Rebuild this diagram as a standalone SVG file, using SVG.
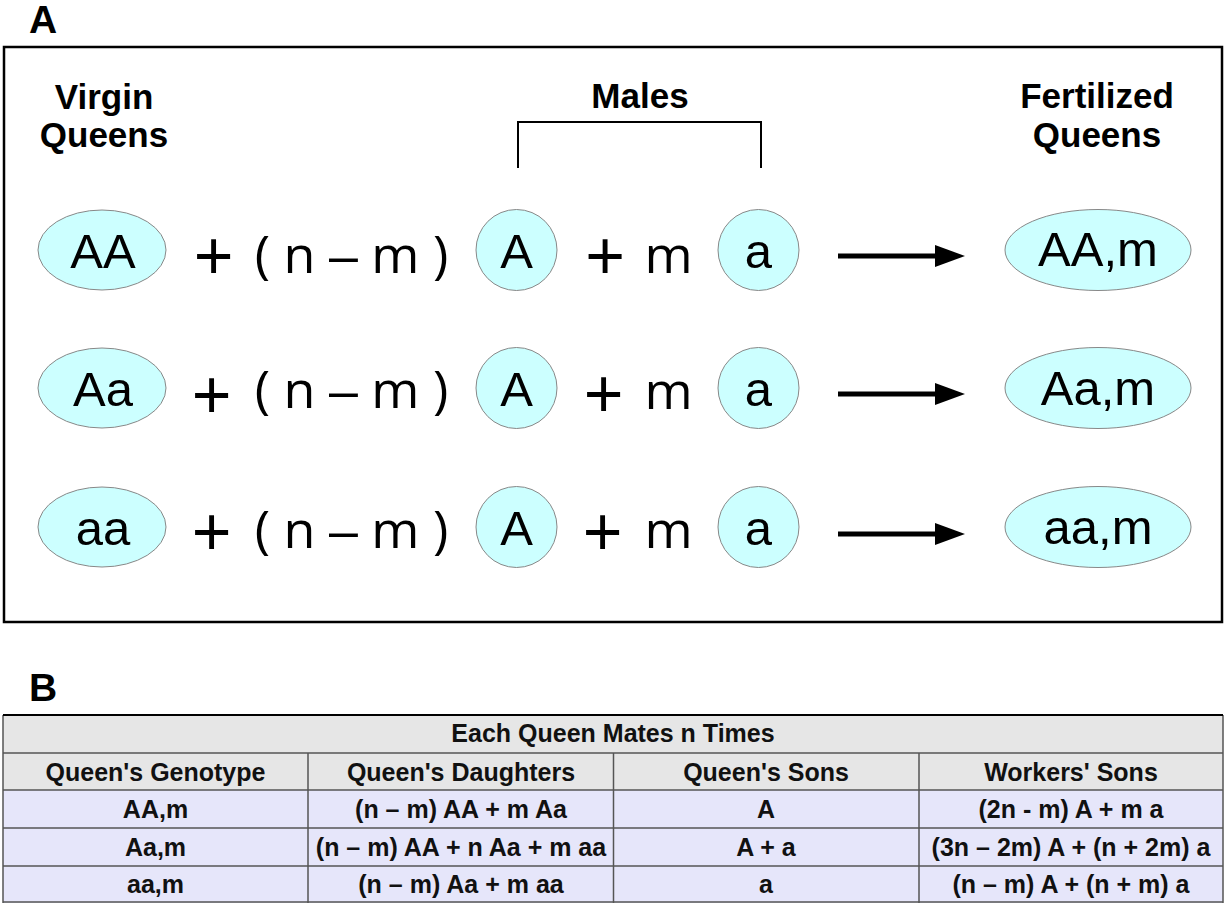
<svg xmlns="http://www.w3.org/2000/svg" width="1225" height="903" viewBox="0 0 1225 903">
<style>
.lbl{font-family:"Liberation Sans",Arial,sans-serif;font-weight:bold;font-size:39px;fill:#000}
.hd{font-family:"Liberation Sans",Arial,sans-serif;font-weight:bold;font-size:35px;fill:#000;text-anchor:middle}
.node{fill:#ccffff;stroke:#888;stroke-width:1}
.nt{font-family:"Liberation Sans",Arial,sans-serif;font-size:49px;fill:#000;text-anchor:middle}
.op{font-family:"Liberation Sans",Arial,sans-serif;font-size:68px;fill:#000;text-anchor:middle}
.ex{font-family:"Open Sans","DejaVu Sans",sans-serif;font-size:52px;fill:#000;text-anchor:middle}
.dash{font-family:"Liberation Sans",Arial,sans-serif}
.tt{font-family:"Liberation Sans",Arial,sans-serif;font-weight:bold;font-size:25px;fill:#111;text-anchor:middle}
.g{fill:#e6e6e6}
.v{fill:#e6e6fa}
.tl{stroke:#555;stroke-width:1.5}
</style>

<text class="lbl" x="29" y="33">A</text>
<rect x="4" y="47" width="1218" height="575" fill="none" stroke="#000" stroke-width="2.5"/>

<text class="hd" x="104" y="109">Virgin</text>
<text class="hd" x="104" y="147">Queens</text>
<text class="hd" x="640" y="108">Males</text>
<text class="hd" x="1097" y="108">Fertilized</text>
<text class="hd" x="1097" y="147">Queens</text>
<path d="M518,168 V122 H761 V168" fill="none" stroke="#000" stroke-width="2"/>

<!-- Row 1 -->
<g id="vq1"><ellipse class="node" cx="102" cy="250" rx="64" ry="40"/><text class="nt" x="103" y="268">AA</text></g>
<text class="op" x="213.5" y="279">+</text>
<text class="ex" x="351.5" y="273">( n <tspan class="dash">–</tspan> m )</text>
<g id="mA1"><circle class="node" cx="516.5" cy="250" r="40.5"/><text class="nt" x="516.5" y="268">A</text></g>
<text class="op" x="605" y="279">+</text>
<text class="ex" x="668.5" y="273">m</text>
<g id="ma1"><circle class="node" cx="758.5" cy="250" r="40.5"/><text class="nt" x="758.5" y="268">a</text></g>
<g id="fq1"><ellipse class="node" cx="1098" cy="250" rx="93" ry="40.5"/><text class="nt" x="1098" y="266">AA,m</text></g>

<!-- Row 2 -->
<g id="vq2"><ellipse class="node" cx="102" cy="388" rx="64" ry="40"/><text class="nt" x="103" y="406">Aa</text></g>
<text class="op" x="211.5" y="418">+</text>
<text class="ex" x="351.5" y="408">( n <tspan class="dash">–</tspan> m )</text>
<g id="mA2"><circle class="node" cx="516.5" cy="388" r="40.5"/><text class="nt" x="516.5" y="406">A</text></g>
<text class="op" x="603.5" y="417">+</text>
<text class="ex" x="668.5" y="409">m</text>
<g id="ma2"><circle class="node" cx="758.5" cy="388" r="40.5"/><text class="nt" x="758.5" y="406">a</text></g>
<g id="fq2"><ellipse class="node" cx="1098" cy="388" rx="93" ry="40.5"/><text class="nt" x="1098" y="405">Aa,m</text></g>

<!-- Row 3 -->
<g id="vq3"><ellipse class="node" cx="102" cy="527" rx="64" ry="40"/><text class="nt" x="103" y="545">aa</text></g>
<text class="op" x="211.5" y="555">+</text>
<text class="ex" x="351.5" y="548">( n <tspan class="dash">–</tspan> m )</text>
<g id="mA3"><circle class="node" cx="516.5" cy="527" r="40.5"/><text class="nt" x="516.5" y="545">A</text></g>
<text class="op" x="602.5" y="555">+</text>
<text class="ex" x="668.5" y="548">m</text>
<g id="ma3"><circle class="node" cx="758.5" cy="527" r="40.5"/><text class="nt" x="758.5" y="545">a</text></g>
<g id="fq3"><ellipse class="node" cx="1098" cy="527" rx="93" ry="40.5"/><text class="nt" x="1098" y="544">aa,m</text></g>

<g id="connectors" fill="#000" stroke="#000">
<line x1="838" y1="256" x2="937" y2="256" stroke-width="5"/>
<polygon points="935,245 965,256 935,267" stroke="none"/>
<line x1="838" y1="394" x2="937" y2="394" stroke-width="5"/>
<polygon points="935,383 965,394 935,405" stroke="none"/>
<line x1="838" y1="534" x2="937" y2="534" stroke-width="5"/>
<polygon points="935,523 965,534 935,545" stroke="none"/>
</g>

<text class="lbl" x="29" y="701">B</text>
<g id="table">
<rect class="g" x="3" y="715" width="1220" height="75"/>
<rect class="v" x="3" y="790" width="1220" height="113"/>
<line class="tl" x1="3" y1="753" x2="1223" y2="753"/>
<line class="tl" x1="3" y1="790" x2="1223" y2="790"/>
<line class="tl" x1="3" y1="828" x2="1223" y2="828"/>
<line class="tl" x1="3" y1="866" x2="1223" y2="866"/>
<line class="tl" x1="3" y1="902" x2="1223" y2="902"/>
<line class="tl" x1="3" y1="715" x2="3" y2="903"/>
<line class="tl" x1="1223" y1="715" x2="1223" y2="903"/>
<line class="tl" x1="308" y1="753" x2="308" y2="903"/>
<line class="tl" x1="613.5" y1="753" x2="613.5" y2="903"/>
<line class="tl" x1="919" y1="753" x2="919" y2="903"/>
<line x1="3" y1="715" x2="1223" y2="715" stroke="#000" stroke-width="2"/>
<text class="tt" x="613" y="742">Each Queen Mates n Times</text>
<text class="tt" x="155.5" y="781">Queen's Genotype</text>
<text class="tt" x="461" y="781">Queen's Daughters</text>
<text class="tt" x="766" y="781">Queen's Sons</text>
<text class="tt" x="1071" y="781">Workers' Sons</text>
<text class="tt" x="155.5" y="818">AA,m</text>
<text class="tt" x="461" y="818">(n – m) AA + m Aa</text>
<text class="tt" x="766" y="818">A</text>
<text class="tt" x="1071" y="818">(2n - m) A + m a</text>
<text class="tt" x="155.5" y="856">Aa,m</text>
<text class="tt" x="461" y="856">(n – m) AA + n Aa + m aa</text>
<text class="tt" x="766" y="856">A + a</text>
<text class="tt" x="1071" y="856">(3n – 2m) A + (n + 2m) a</text>
<text class="tt" x="155.5" y="893">aa,m</text>
<text class="tt" x="461" y="893">(n – m) Aa + m aa</text>
<text class="tt" x="766" y="893">a</text>
<text class="tt" x="1071" y="893">(n – m) A + (n + m) a</text>
</g>
</svg>
